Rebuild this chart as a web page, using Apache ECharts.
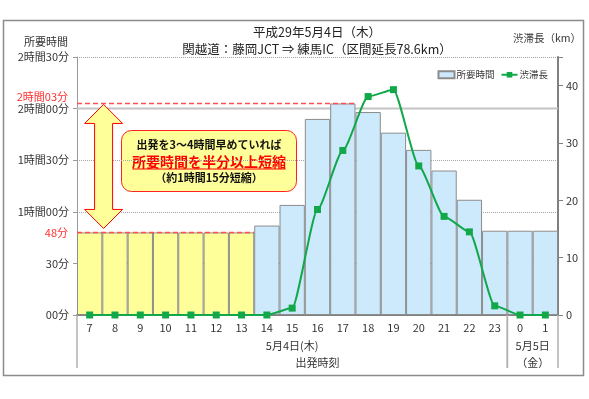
<!DOCTYPE html>
<html lang="ja">
<head>
<meta charset="utf-8">
<title>関越道 所要時間と渋滞長</title>
<script src="https://cdn.jsdelivr.net/npm/echarts@6/dist/echarts.min.js"></script>
<style>
  html, body { margin: 0; padding: 0; background: #fff; }
  #chart { width: 589px; height: 399px; }
</style>
</head>
<body>
<div id="chart"></div>
<script>
  // 出発時刻（時）
  const hours = ['7','8','9','10','11','12','13','14','15','16','17','18','19','20','21','22','23','0','1'];
  // 所要時間（分）
  const travelMin = [48,48,48,48,48,48,48,52,64,114,123,118,106,96,84,67,49,49,49];
  // 渋滞長（km）
  const jamKm = [0,0,0,0,0,0,0,0,1.2,18.4,28.7,38.1,39.3,26.0,17.2,14.5,1.6,0,0];
  // 3～4時間早めた出発時刻（黄色）
  const earlyHours = ['7','8','9','10','11','12','13'];
  // 左軸の目盛（分）と右軸の目盛（km）
  const minTicks = [0,30,60,90,120,150];
  const kmTicks = [0,10,20,30,40];
  const kmRange = [0,45];
  // 比較の基準線：最大所要時間と早めた場合
  const refValues = [123, 48];
  const refUntil = ['17', '13'];
  // 日付の区切り
  const dayFrom = ['7', '0'];
  const dayTo = ['23', '1'];
  const dayLabels = ['5月4日(木)', '5月5日\n（金）'];

  const font = '"Noto Sans CJK JP", "Noto Sans", sans-serif';

  function fmtMin(v) {
    const h = Math.floor(v / 60);
    const mm = String(v % 60).padStart(2, '0');
    return h ? h + '時間' + mm + '分' : mm + '分';
  }

  let chart = echarts.init(document.getElementById('chart'));

  chart.setOption({
    animation: false,
    textStyle: { fontFamily: font },
    title: {
      text: '平成29年5月4日（木）\n関越道：藤岡JCT ⇒ 練馬IC（区間延長78.6km）',
      left: 317,
      textAlign: 'center',
      top: 24,
      padding: 0,
      textStyle: { fontSize: 12.5, fontWeight: 'normal', color: '#222', lineHeight: 17, fontFamily: font }
    },
    legend: {
      data: [{ name: '所要時間', icon: 'rect' }, '渋滞長'],
      right: 36,
      top: 65,
      itemWidth: 16,
      itemHeight: 7,
      itemGap: 6,
      textStyle: { fontSize: 9.5, color: '#333', fontFamily: font, padding: [0, 0, 0, -3] }
    },
    grid: { left: 77, right: 31, top: 57, bottom: 84 },
    xAxis: {
      type: 'category',
      data: hours,
      name: '出発時刻',
      nameLocation: 'middle',
      nameGap: 42,
      nameTextStyle: { fontSize: 11, color: '#333' },
      axisLine: { lineStyle: { color: '#808080', width: 2 } },
      axisTick: { interval: 0, length: 17, lineStyle: { color: '#b0b0b0', width: 1.5 } },
      axisLabel: { interval: 0, fontSize: 11, color: '#333', margin: 7 }
    },
    yAxis: [{
      type: 'value',
      min: minTicks[0],
      max: minTicks[minTicks.length - 1],
      interval: minTicks[1] - minTicks[0],
      name: '所要時間',
      nameGap: 10,
      nameTextStyle: { fontSize: 11, color: '#333', align: 'right', padding: [0, 9, 0, 0] },
      axisLine: { show: true, lineStyle: { color: '#999', width: 1 } },
      axisTick: { show: true, length: 4, lineStyle: { color: '#999' } },
      axisLabel: { fontSize: 11, color: '#333', margin: 8, formatter: fmtMin },
      splitLine: { lineStyle: { color: '#a6a6a6', type: 'dotted', width: 1 } }
    }, {
      type: 'value',
      min: kmRange[0],
      max: kmRange[1],
      interval: kmTicks[1] - kmTicks[0],
      name: '渋滞長（km）',
      nameGap: 14,
      nameTextStyle: { fontSize: 10.5, color: '#333', align: 'center', padding: [0, 22, 0, 0] },
      axisLine: { show: true, lineStyle: { color: '#808080', width: 2 } },
      axisTick: { show: true, length: 5, lineStyle: { color: '#808080' } },
      axisLabel: {
        fontSize: 11, color: '#333', margin: 8,
        formatter: v => kmTicks.includes(v) ? String(v) : ''
      },
      splitLine: { show: false }
    }],
    series: [
      {
        // 2時間00分の太い目盛線（棒の後ろ）
        type: 'custom',
        name: 'grid120',
        silent: true,
        z: 1,
        data: [[0, minTicks[4]]],
        renderItem(params, api) {
          const y = api.coord([0, api.value(1)])[1];
          const cs = params.coordSys;
          return {
            type: 'line',
            shape: { x1: cs.x, y1: y, x2: cs.x + cs.width, y2: y },
            style: { stroke: '#c4c4c4', lineWidth: 2 }
          };
        }
      },
      {
        name: '所要時間',
        type: 'bar',
        z: 2,
        barCategoryGap: '0%',
        itemStyle: { color: '#cdeafd', borderColor: '#8c8c8c', borderWidth: 1 },
        data: travelMin.map((v, i) => earlyHours.includes(hours[i])
          ? { value: v, itemStyle: { color: '#ffff99' } }
          : v)
      },
      {
        name: '渋滞長',
        type: 'line',
        yAxisIndex: 1,
        z: 4,
        data: jamKm,
        symbol: 'rect',
        symbolSize: 7,
        smooth: 0.2,
        smoothMonotone: 'x',
        lineStyle: { color: '#12a84a', width: 2 },
        itemStyle: { color: '#12a84a' }
      },
      {
        // 赤い破線の基準線とラベル
        type: 'custom',
        name: 'ref',
        silent: true,
        z: 6,
        data: refValues.map((v, i) => [hours.indexOf(refUntil[i]), v]),
        renderItem(params, api) {
          const v = api.value(1);
          const band = api.size([1, 0])[0];
          const x0 = api.coord([0, v])[0] - band / 2;
          const p1 = api.coord([api.value(0), v]);
          const near = Math.abs(v - Math.round(v / 30) * 30) < 8;
          return {
            type: 'group',
            children: [{
              type: 'line',
              shape: { x1: x0, y1: p1[1], x2: p1[0] + band / 2, y2: p1[1] },
              style: { stroke: '#ff5050', lineWidth: 1.5, lineDash: [5, 3] }
            }, {
              type: 'text',
              x: x0 - 9,
              y: p1[1] + (near ? -7 : 0),
              style: { text: fmtMin(v), fill: '#ff3030', fontSize: 11, fontFamily: font, align: 'right', verticalAlign: 'middle' }
            }]
          };
        }
      },
      {
        // 上下の矢印（短縮幅）
        type: 'custom',
        name: 'arrow',
        silent: true,
        z: 7,
        data: [[0, refValues[0], refValues[1]]],
        renderItem(params, api) {
          const band = api.size([1, 0])[0];
          const cx = api.coord([0, 0])[0] + band * 0.55;
          const top = api.coord([0, api.value(1)])[1] + 1;
          const bot = api.coord([0, api.value(2)])[1] - 4;
          const head = 19, hw = 19, sw = 9;
          return {
            type: 'polygon',
            shape: {
              points: [
                [cx, top], [cx + hw, top + head], [cx + sw, top + head],
                [cx + sw, bot - head], [cx + hw, bot - head], [cx, bot],
                [cx - hw, bot - head], [cx - sw, bot - head],
                [cx - sw, top + head], [cx - hw, top + head]
              ]
            },
            style: { fill: '#ffff99', stroke: '#ff0000', lineWidth: 1 }
          };
        }
      },
      {
        // 日付の区切り線とラベル
        type: 'custom',
        name: 'days',
        silent: true,
        z: 3,
        data: dayFrom.map((f, i) => [hours.indexOf(f), hours.indexOf(dayTo[i])]),
        renderItem(params, api) {
          const band = api.size([1, 0])[0];
          const p0 = api.coord([api.value(0), 0]);
          const xa = p0[0] - band / 2;
          const xb = api.coord([api.value(1), 0])[0] + band / 2;
          const y0 = p0[1];
          const sep = { stroke: '#b0b0b0', lineWidth: 1.5 };
          return {
            type: 'group',
            children: [
              { type: 'line', shape: { x1: xa, y1: y0, x2: xa, y2: y0 + 53 }, style: sep },
              { type: 'line', shape: { x1: xb, y1: y0, x2: xb, y2: y0 + 53 }, style: sep },
              {
                type: 'text',
                x: (xa + xb) / 2,
                y: y0 + 22,
                style: {
                  text: dayLabels[params.dataIndex], fill: '#333', fontSize: 11, fontFamily: font,
                  align: 'center', verticalAlign: 'top', lineHeight: 17
                }
              }
            ]
          };
        }
      }
    ],
    graphic: [
      {
        type: 'rect',
        silent: true,
        z: -10,
        shape: { x: 3.5, y: 20.5, width: 580, height: 355 },
        style: { fill: null, stroke: '#8c8c8c', lineWidth: 1.5 }
      },
      {
        type: 'group',
        left: 121,
        top: 130,
        z: 100,
        children: [
          {
            type: 'rect',
            shape: { x: 0, y: 0, width: 175, height: 61, r: 10 },
            style: { fill: '#ffff99', stroke: '#ff2020', lineWidth: 1 }
          },
          {
            type: 'text', x: 87.5, y: 14,
            style: { text: '出発を3～4時間早めていれば', fill: '#111', fontSize: 11, fontWeight: 'bold', fontFamily: font, align: 'center', verticalAlign: 'middle' }
          },
          {
            type: 'text', x: 87.5, y: 31,
            style: { text: '所要時間を半分以上短縮', fill: '#ff0000', fontSize: 14, fontWeight: 'bold', fontFamily: font, align: 'center', verticalAlign: 'middle' }
          },
          {
            type: 'line',
            shape: { x1: 11, y1: 38.5, x2: 164, y2: 38.5 },
            style: { stroke: '#ff0000', lineWidth: 1 }
          },
          {
            type: 'text', x: 87.5, y: 47,
            style: { text: '（約1時間15分短縮）', fill: '#111', fontSize: 11, fontWeight: 'bold', fontFamily: font, align: 'center', verticalAlign: 'middle' }
          }
        ]
      }
    ]
  });
</script>
</body>
</html>
